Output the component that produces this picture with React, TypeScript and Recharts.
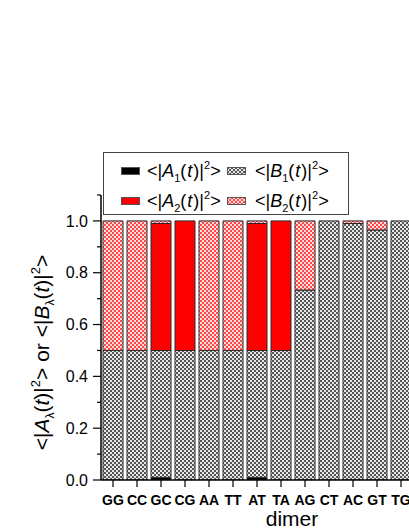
import React from 'react';
import { BarChart, Bar, XAxis, YAxis, Legend } from 'recharts';

const dimers = ['GG', 'CC', 'GC', 'CG', 'AA', 'TT', 'AT', 'TA', 'AG', 'CT', 'AC', 'GT', 'TG'];
const a1 = [0, 0, 0.01, 0, 0, 0, 0.01, 0, 0, 0, 0, 0, 0];
const b1 = [0.5, 0.5, 0.49, 0.5, 0.5, 0.5, 0.49, 0.5, 0.733, 1.0, 0.99, 0.965, 1.0];
const a2 = [0, 0, 0.49, 0.5, 0, 0, 0.49, 0.5, 0, 0, 0, 0, 0];
const b2 = [0.5, 0.5, 0.01, 0, 0.5, 0.5, 0.01, 0, 0.267, 0, 0.01, 0.035, 0];
const yTicks = [0, 0.1, 0.2, 0.3, 0.4, 0.5, 0.6, 0.7, 0.8, 0.9, 1.0, 1.1];

const data = dimers.map((d, i) => ({ name: d, a1: a1[i], b1: b1[i], a2: a2[i], b2: b2[i] }));

const FONT = '"Liberation Sans", Arial, sans-serif';

const seriesMeta = [
  { key: 'a1', letter: 'A', idx: '1', fill: '#000000' },
  { key: 'b1', letter: 'B', idx: '1', fill: 'url(#grayChk)' },
  { key: 'a2', letter: 'A', idx: '2', fill: '#ff0000' },
  { key: 'b2', letter: 'B', idx: '2', fill: 'url(#pinkChk)' },
];

const Patterns = ({ prefix = '' }: { prefix?: string }) => (
  <defs>
    <pattern id={prefix + 'grayChk'} width="4" height="4" patternUnits="userSpaceOnUse">
      <rect width="4" height="4" fill="#e8e8e8" />
      <rect width="2" height="2" fill="#555555" />
      <rect x="2" y="2" width="2" height="2" fill="#555555" />
    </pattern>
    <pattern id={prefix + 'pinkChk'} width="4" height="4" patternUnits="userSpaceOnUse">
      <rect width="4" height="4" fill="#ffdcdc" />
      <rect width="2" height="2" fill="#ff4a4a" />
      <rect x="2" y="2" width="2" height="2" fill="#ff4a4a" />
    </pattern>
  </defs>
);

const YTick = (props: any) => {
  const { x, y, payload } = props;
  const v = payload.value as number;
  const major = Math.round(v * 10) % 2 === 0;
  return (
    <g>
      <line x1={x - (major ? 8 : 4)} x2={x} y1={y} y2={y} stroke="#000" strokeWidth={1.2} />
      {major && (
        <text x={x - 13} y={y} dy="0.36em" textAnchor="end" fontSize={16} fontFamily={FONT} fill="#000">
          {v.toFixed(1)}
        </text>
      )}
    </g>
  );
};

const YLabel = (props: any) => {
  const vb = props.viewBox || { x: 0, y: 187, width: 93, height: 285 };
  const cx = vb.x + 41;
  const cy = vb.y + vb.height / 2 + 15;
  return (
    <text
      x={cx}
      y={cy}
      transform={`rotate(-90, ${cx}, ${cy})`}
      textAnchor="middle"
      fontSize={21}
      fontFamily={FONT}
      fill="#000"
    >
      {'<|'}
      <tspan fontStyle="italic">A</tspan>
      <tspan dy={5} fontSize={12}>λ</tspan>
      <tspan dy={-5}>(</tspan>
      <tspan fontStyle="italic">t</tspan>
      <tspan>)|</tspan>
      <tspan dy={-9} fontSize={13}>2</tspan>
      <tspan dy={9}>{'> or <|'}</tspan>
      <tspan fontStyle="italic">B</tspan>
      <tspan dy={5} fontSize={12}>λ</tspan>
      <tspan dy={-5}>(</tspan>
      <tspan fontStyle="italic">t</tspan>
      <tspan>)|</tspan>
      <tspan dy={-9} fontSize={13}>2</tspan>
      <tspan dy={9}>{'>'}</tspan>
    </text>
  );
};

const XLabel = (props: any) => {
  const vb = props.viewBox || { x: 93, y: 472, width: 312, height: 49 };
  return (
    <text x={vb.x + vb.width / 2 + 35} y={vb.y + 46} textAnchor="middle" fontSize={21} fontFamily={FONT} fill="#000">
      dimer
    </text>
  );
};

const Swatch = ({ fill, id }: { fill: string; id: string }) => {
  const f = fill.startsWith('url') ? fill.replace('#', '#' + id) : fill;
  return (
    <svg width={19} height={8} style={{ display: 'block' }}>
      <Patterns prefix={id} />
      <rect x={0.5} y={0.5} width={18} height={7} fill={f} stroke="#555" strokeWidth={1} />
    </svg>
  );
};

const legendPos = [
  { left: 18, top: 19, textLeft: 44 },
  { left: 124, top: 19, textLeft: 152 },
  { left: 18, top: 49, textLeft: 44 },
  { left: 124, top: 49, textLeft: 152 },
];

const LegendBox = () => (
  <div
    style={{
      position: 'relative',
      width: 246,
      height: 63,
      boxSizing: 'border-box',
      border: '1px solid #444',
      background: '#fff',
      fontFamily: FONT,
      fontSize: 18,
      color: '#000',
    }}
  >
    {seriesMeta.map((s, i) => {
      const p = legendPos[i];
      return (
        <React.Fragment key={s.key}>
          <div style={{ position: 'absolute', left: p.left - 1, top: p.top - 5 }}>
            <Swatch fill={s.fill} id={'lg' + i} />
          </div>
          <div style={{ position: 'absolute', left: p.textLeft - 1, top: p.top - 13, height: 24, lineHeight: '24px', whiteSpace: 'nowrap' }}>
            {'<|'}
            <i>{s.letter}</i>
            <span style={{ fontSize: 11, position: 'relative', top: 5 }}>{s.idx}</span>
            {'('}
            <i style={{ padding: '0 1px' }}>t</i>
            {')|'}
            <span style={{ fontSize: 11, position: 'relative', top: -8 }}>2</span>
            {'>'}
          </div>
        </React.Fragment>
      );
    })}
  </div>
);

export default function App() {
  return (
    <div style={{ width: 401, height: 521, overflow: 'hidden', position: 'relative' }}>
      <style>{'body { margin: 8px 0 0 8px; } #root { width: 401px; }'}</style>
      <BarChart
        width={420}
        height={521}
        data={data}
        margin={{ top: 187, right: 15, left: 0, bottom: 0 }}
        barSize={20}
      >
        <Patterns />
        <XAxis
          dataKey="name"
          height={49}
          tickSize={7}
          tickMargin={8}
          axisLine={{ stroke: '#000', strokeWidth: 1.5 }}
          tickLine={{ stroke: '#000', strokeWidth: 1.2 }}
          tick={{ fontSize: 14, fontWeight: 'bold', fontFamily: FONT, fill: '#000' }}
          interval={0}
          label={<XLabel />}
        />
        <YAxis
          width={93}
          type="number"
          domain={[0, 1.1]}
          ticks={yTicks}
          interval={0}
          tickSize={0}
          tickMargin={0}
          tickLine={false}
          axisLine={{ stroke: '#000', strokeWidth: 1.5 }}
          tick={<YTick />}
          allowDataOverflow
          label={<YLabel />}
        />
        <Legend
          layout="vertical"
          align="center"
          verticalAlign="middle"
          content={() => <LegendBox />}
          wrapperStyle={{ left: 95, top: 144, width: 246, height: 63 }}
        />
        {seriesMeta.map((s) => (
          <Bar
            key={s.key}
            dataKey={s.key}
            stackId="s"
            fill={s.fill}
            stroke="#2a2a2a"
            strokeWidth={1}
            isAnimationActive={false}
          />
        ))}
      </BarChart>
    </div>
  );
}
